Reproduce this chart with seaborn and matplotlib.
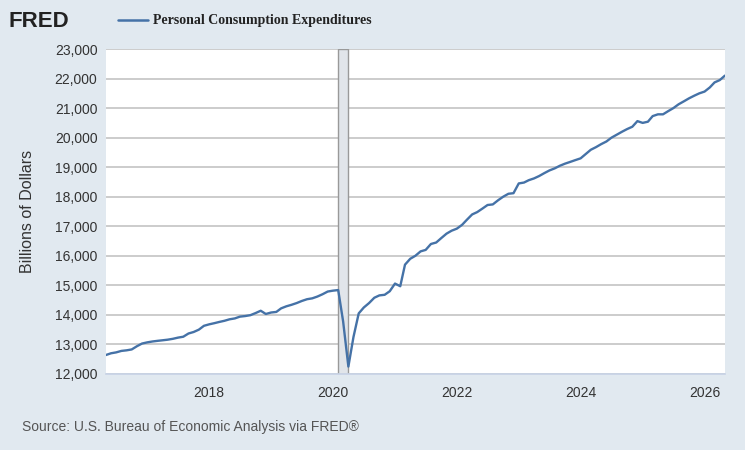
import pandas as pd
import seaborn as sns
import matplotlib.pyplot as plt
import matplotlib.dates as mdates

# Monthly PCE, billions of dollars, May 2016 - May 2026
start_month = "2016-05-01"
pce_2016 = [12640, 12700, 12730, 12780, 12800, 12830, 12940, 13030]
pce_2017 = [13070, 13100, 13120, 13140, 13160, 13190, 13230, 13260, 13370, 13420, 13500, 13630]
pce_2018 = [13680, 13720, 13760, 13800, 13850, 13880, 13940, 13960, 13990, 14060, 14140, 14030]
pce_2019 = [14080, 14100, 14220, 14290, 14340, 14400, 14470, 14530, 14560, 14620, 14700, 14790]
pce_2020 = [14820, 14840, 13780, 12250, 13250, 14050, 14250, 14400, 14580, 14660, 14680, 14800]
pce_2021 = [15060, 14970, 15700, 15900, 16000, 16150, 16200, 16400, 16450, 16600, 16750, 16850]
pce_2022 = [16920, 17050, 17220, 17400, 17480, 17600, 17720, 17740, 17880, 18000, 18100, 18120]
pce_2023 = [18450, 18480, 18560, 18620, 18700, 18800, 18890, 18960, 19050, 19120, 19180, 19240]
pce_2024 = [19300, 19450, 19590, 19680, 19780, 19870, 20000, 20100, 20200, 20290, 20370, 20560]
pce_2025 = [20500, 20540, 20730, 20790, 20790, 20900, 21000, 21130, 21230, 21330, 21420, 21500]
pce_2026 = [21560, 21700, 21870, 21950, 22100]
recession = ("2020-02-01", "2020-04-01")
y_ticks = list(range(12000, 23001, 1000))
x_tick_years = [2018, 2020, 2022, 2024, 2026]

values = (pce_2016 + pce_2017 + pce_2018 + pce_2019 + pce_2020 + pce_2021
          + pce_2022 + pce_2023 + pce_2024 + pce_2025 + pce_2026)
df = pd.DataFrame({"date": pd.date_range(start_month, periods=len(values), freq="MS"),
                   "pce": values})

sns.set_theme(style="white")
plt.rcParams["font.family"] = ["Liberation Sans", "DejaVu Sans"]
bg = "#e1e9f0"
fig = plt.figure(figsize=(7.45, 4.5), dpi=100, facecolor=bg)
ax = fig.add_axes([0.142, 0.169, 0.831, 0.722])
ax.set_facecolor("white")

ax.axvspan(pd.Timestamp(recession[0]), pd.Timestamp(recession[1]),
           facecolor="#e1e5ea", edgecolor="#999999", linewidth=1.0, zorder=1)
sns.lineplot(data=df, x="date", y="pce", ax=ax, color="#4572a7", linewidth=1.7, zorder=3)

ax.set_ylim(12000, 23000)
ax.set_xlim(df["date"].iloc[0], df["date"].iloc[-1])
ax.set_yticks(y_ticks)
ax.set_yticklabels([f"{v:,}" for v in y_ticks])
ax.set_xticks([pd.Timestamp(f"{y}-01-01") for y in x_tick_years])
ax.xaxis.set_major_formatter(mdates.DateFormatter("%Y"))
ax.grid(axis="y", color="#c8c8c8", linewidth=1.3, zorder=0)
ax.set_axisbelow(True)
for s in ["top", "right", "left"]:
    ax.spines[s].set_visible(False)
ax.spines["bottom"].set_color("#c8d3e6")
ax.tick_params(axis="y", labelsize=10, colors="#333333", length=0, pad=6)
ax.tick_params(axis="x", labelsize=10, colors="#333333", length=6,
               color="#c8d3e6", direction="out", pad=3)
ax.set_xlabel("")
ax.set_ylabel("Billions of Dollars", fontsize=11.5, color="#333333", labelpad=14)

# Header and source
fig.text(0.012, 0.953, "FRED", fontsize=16, fontweight="heavy", color="#222222", va="center")
fig.lines.append(plt.Line2D([0.159, 0.199], [0.955, 0.955], transform=fig.transFigure,
                            color="#4572a7", linewidth=1.8))
fig.text(0.206, 0.955, "Personal Consumption Expenditures", fontsize=10, fontweight="bold",
         family="Liberation Serif", color="#222222", va="center")
fig.text(0.03, 0.05, "Source: U.S. Bureau of Economic Analysis via FRED\u00ae",
         fontsize=10, color="#555555", va="center")

plt.savefig("out.png", dpi=100, facecolor=bg)
plt.close()
